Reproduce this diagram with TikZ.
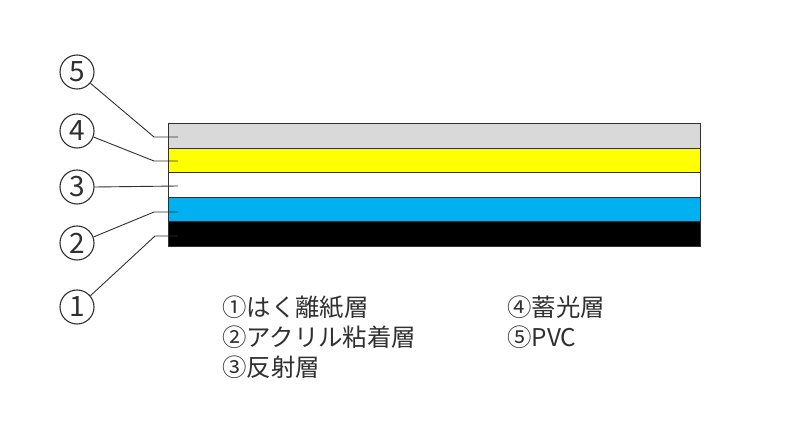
\documentclass[tikz,border=0pt]{standalone}
\usepackage{fontspec}
\newfontfamily\jp{Noto Sans CJK JP}
\definecolor{pvc}{HTML}{D9D9D9}
\definecolor{lum}{HTML}{FFFF00}
\definecolor{acr}{HTML}{00B0F0}
\definecolor{ln}{HTML}{303030}
\begin{document}
\begin{tikzpicture}[x=1pt,y=-1pt,
  layer/.style={draw=ln,line width=1pt},
  lead/.style={draw=ln,line width=0.9pt},
  num/.style={circle,draw=ln,line width=1.1pt,minimum size=34pt,inner sep=0pt,font=\jp\fontsize{28}{28}\selectfont,text=ln},
  legend/.style={anchor=base west,inner sep=0pt,font=\jp\fontsize{24.4}{24.4}\selectfont,text=ln}]
\useasboundingbox (0,0) rectangle (788,422);
% layers
\fill[pvc] (168,124) rectangle (700,149);
\fill[lum] (168,149) rectangle (700,173);
\fill[white] (168,173) rectangle (700,198);
\fill[acr] (168,198) rectangle (700,222);
\fill[black] (168,222) rectangle (700,247);
\draw[layer] (168,124) rectangle (700,247);
\foreach \y in {149,173,198,222} \draw[layer] (168,\y) -- (700,\y);
% numbers
\node[num] (n5) at (77,72) {5};
\node[num] (n4) at (77,131) {4};
\node[num] (n3) at (77,187) {3};
\node[num] (n2) at (77,243) {2};
\node[num] (n1) at (77,307) {1};
% leader end points
\coordinate (e5) at (178,137);
\coordinate (e4) at (178,161);
\coordinate (e3) at (178,186);
\coordinate (e2) at (178,212);
\coordinate (e1) at (178,236);
\coordinate (k5) at (154,137);
\coordinate (k4) at (154,161);
\coordinate (k2) at (154,212);
\coordinate (k1) at (155,236);
\draw[lead] (n5.-40) -- (k5) -- (e5);
\draw[lead] (n4.-20) -- (k4) -- (e4);
\draw[lead] (n3.east) -- (e3);
\draw[lead] (n2.20) -- (k2) -- (e2);
\draw[lead] (n1.40) -- (k1) -- (e1);
% legend
\node[legend] (l1) at (222,316.5) {①はく離紙層};
\node[legend] (l2) at (222,346.5) {②アクリル粘着層};
\node[legend] (l3) at (222,376.5) {③反射層};
\node[legend] (l4) at (507,316.5) {④蓄光層};
\node[legend] (l5) at (507,346.5) {⑤PVC};
\end{tikzpicture}
\end{document}
